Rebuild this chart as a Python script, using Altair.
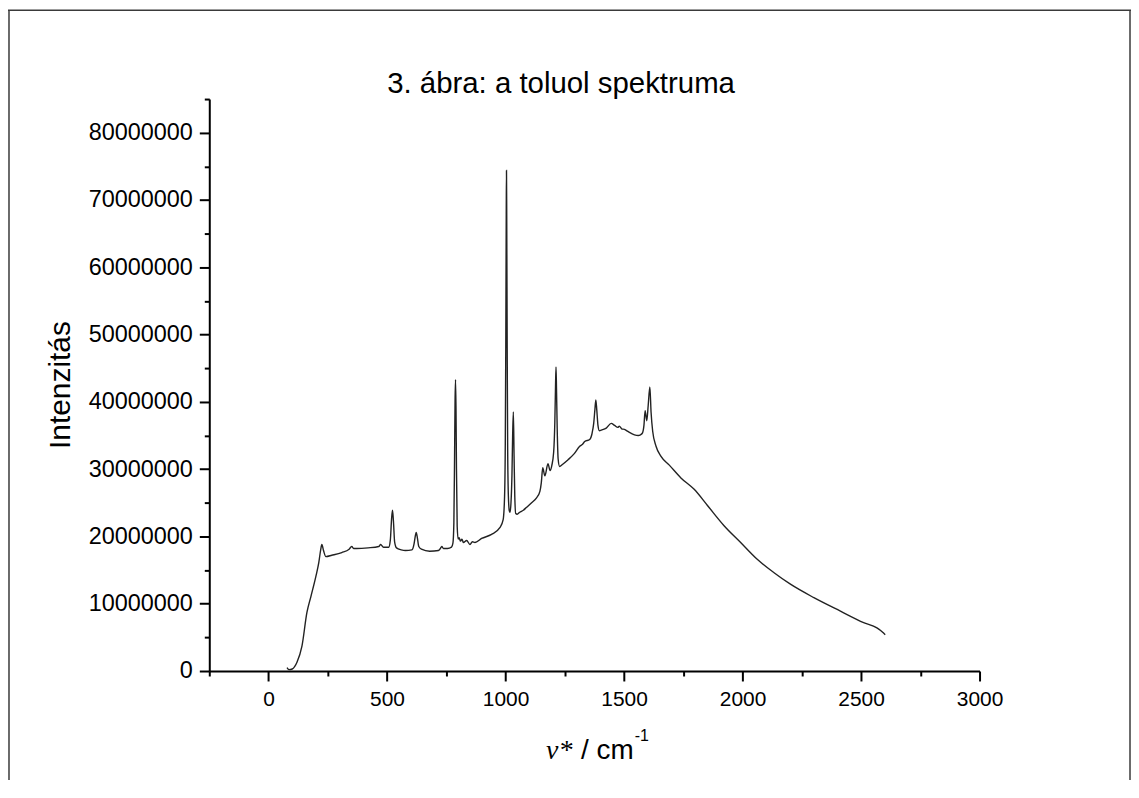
import altair as alt
import pandas as pd

# Raman spectrum of toluene
wavenumber = [
    78, 86, 100, 120, 141, 162, 179, 200, 212, 220, 225, 232, 242, 267, 309, 340, 351, 360, 372,
    420, 465, 473, 485, 507, 514, 519, 523, 527, 532, 540, 560, 578, 605, 614, 619, 623, 628, 634,
    645, 680, 717, 725, 731, 738, 755, 772, 778, 782, 785, 787, 789, 791, 793, 796, 800, 804, 810,
    816, 822, 836, 850, 860, 871, 899, 941, 976, 990, 996, 999, 1001, 1003, 1004, 1005, 1007, 1009,
    1012, 1016, 1019, 1023, 1027, 1030, 1033, 1036, 1039, 1043, 1049, 1060, 1075, 1088, 1110, 1130,
    1145, 1151, 1157, 1166, 1179, 1188, 1195, 1203, 1208, 1211, 1213, 1215, 1218, 1222, 1228, 1240,
    1264, 1290, 1313, 1325, 1334, 1355, 1365, 1372, 1377, 1381, 1385, 1390, 1396, 1404, 1425, 1446,
    1460, 1474, 1480, 1490, 1502, 1516, 1544, 1560, 1569, 1578, 1584, 1589, 1596, 1602, 1609, 1614,
    1621, 1635, 1656, 1691, 1740, 1796, 1852, 1922, 1992, 2062, 2133, 2202, 2301, 2413, 2511, 2567,
    2590, 2602,
]
intensity_millions = [
    0.5, 0.2, 0.3, 1.3, 3.7, 8.7, 11.1, 14.1, 16.1, 18.0, 18.8, 17.9, 17.0, 17.2, 17.6, 18.1, 18.5, 18.2, 18.2,
    18.3, 18.5, 18.8, 18.4, 18.4, 19.5, 22.5, 23.9, 22.3, 19.2, 18.3, 18.0, 17.9, 18.0, 18.9, 20.0, 20.6, 19.8, 18.5,
    18.1, 17.8, 17.9, 18.2, 18.5, 18.2, 18.2, 18.4, 19.0, 22.0, 32.0, 40.0, 43.3, 39.0, 30.0, 21.5, 19.6, 19.8, 19.3,
    19.6, 19.1, 19.4, 18.8, 19.2, 19.1, 19.7, 20.3, 21.3, 22.5, 26.0, 34.0, 48.0, 68.0, 74.4, 68.0, 48.0, 33.0,
    26.0, 23.8, 23.6, 25.0, 29.0, 35.0, 38.5, 32.0, 26.0, 23.4, 23.3, 23.6, 23.9, 24.3, 25.0, 25.7,
    26.7, 28.0, 30.2, 29.0, 30.8, 29.8, 30.5, 32.5, 37.0, 42.5, 45.2, 42.0, 36.0, 31.5, 30.4, 30.7,
    31.4, 32.3, 33.4, 33.7, 34.1, 34.4, 35.3, 36.8, 38.8, 40.3, 38.8, 36.5, 35.7, 35.8, 36.1, 36.8,
    36.5, 36.2, 36.4, 36.0, 35.9, 35.6, 35.1, 35.0, 35.1, 35.4, 36.5, 38.7, 37.2, 39.5, 42.2, 38.5,
    35.6, 33.4, 31.9, 30.6, 28.7, 27.0, 24.6, 21.6, 19.1, 16.6, 14.6, 12.9, 10.9, 8.9, 7.2, 6.4,
    5.8, 5.4,
]

x_tick_values = list(range(-250, 3001, 250))
y_tick_values = list(range(0, 85_000_001, 5_000_000))

title_text = "3. ábra: a toluol spektruma"
y_title_text = "Intenzitás"
x_title_symbol = "ν*"
x_title_unit = "/ cm"
x_title_exp = "-1"

df = pd.DataFrame({"nu": wavenumber, "I": [v * 1e6 for v in intensity_millions]})

W, H = 773, 574

line = alt.Chart(df).mark_line(color="#222222", strokeWidth=1.4, interpolate="monotone").encode(
    x=alt.X(
        "nu:Q",
        scale=alt.Scale(domain=[-250, 3000], nice=False, zero=False),
        axis=alt.Axis(
            values=x_tick_values,
            labelExpr="datum.value % 500 === 0 ? format(datum.value, 'd') : ''",
            title=None,
            tickSize={"condition": {"test": "datum.value % 500 === 0", "value": 10}, "value": 5},
            labelPadding=8,
            labelFontSize=21,
            labelFlush=False,
            labelOverlap=False,
        ),
    ),
    y=alt.Y(
        "I:Q",
        scale=alt.Scale(domain=[0, 85_000_000], nice=False),
        axis=alt.Axis(
            values=y_tick_values,
            labelExpr="datum.value % 10000000 === 0 ? format(datum.value, 'd') : ''",
            title=None,
            tickSize={"condition": {"test": "datum.value % 10000000 === 0", "value": 10}, "value": 5},
            labelPadding=7,
            labelFontSize=23.5,
            labelFlush=False,
            labelOverlap=False,
        ),
    ),
)


def label(text, x, y, size, font="Liberation Sans", style="normal", angle=0, align="left", baseline="alphabetic"):
    return alt.Chart(pd.DataFrame({"t": [text]})).mark_text(
        font=font, fontSize=size, fontStyle=style, angle=angle, align=align,
        baseline=baseline, color="black",
    ).encode(x=alt.value(x), y=alt.value(y), text="t:N")


texts = [
    label(title_text, 353, -6, 29.5, align="center"),
    label(y_title_text, -149, 287, 30, angle=270, align="center", baseline="middle"),
    label(x_title_symbol, 338, 662, 28, font="Liberation Serif", style="italic"),
    label(x_title_unit, 373, 662, 28),
    label(x_title_exp, 427, 644, 16),
]

frame_src = pd.DataFrame({"k": [0]})
frame = [
    alt.Chart(frame_src).mark_rule(color="#3a3a3a", strokeWidth=1.5).encode(
        x=alt.value(-201), y=alt.value(-89), y2=alt.value(690)),
    alt.Chart(frame_src).mark_rule(color="#3a3a3a", strokeWidth=1.5).encode(
        x=alt.value(-202), x2=alt.value(925), y=alt.value(-89)),
    alt.Chart(frame_src).mark_rule(color="#3a3a3a", strokeWidth=1.5).encode(
        x=alt.value(924), y=alt.value(-89), y2=alt.value(690)),
]

chart = alt.layer(line, *texts, *frame).properties(
    width=W,
    height=H,
    autosize=alt.AutoSizeParams(type="none"),
    padding={"left": 202, "top": 90, "right": 152, "bottom": 108},
).configure_view(stroke=None).configure_axis(
    domainColor="black", domainWidth=2, tickColor="black", tickWidth=2,
    labelFont="Liberation Sans", labelFontSize=22, labelColor="black", grid=False,
)

chart.save("out.html", embed_options={"renderer": "svg", "actions": False})
